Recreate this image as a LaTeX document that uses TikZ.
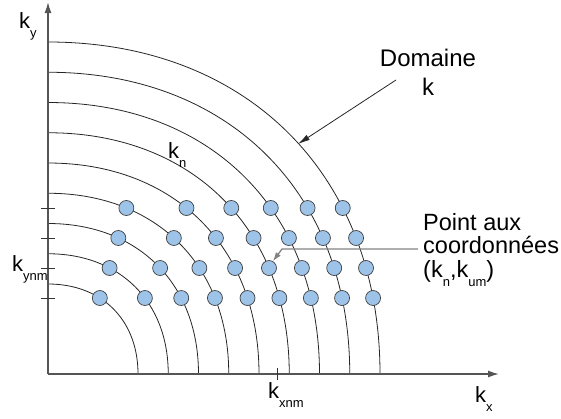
\documentclass[tikz,border=0pt]{standalone}
\usepackage{fontspec}
\setmainfont{Liberation Sans}
\usetikzlibrary{arrows.meta,intersections}
\definecolor{dotblue}{RGB}{157,195,232}
\definecolor{axisgray}{RGB}{85,85,85}
\definecolor{pointergray}{RGB}{130,130,130}
\newcommand{\kk}[1]{k\raisebox{-9pt}{\fontsize{13}{13}\selectfont #1}}
\begin{document}
\begin{tikzpicture}[x=1pt,y=-1pt,
  axis/.style={line width=1.4pt, draw=axisgray, -{Latex[length=11pt,width=7pt]}},
  arcline/.style={line width=0.8pt, draw=black!85},
  dot/.style={circle, minimum size=15pt, inner sep=0pt, fill=dotblue, draw=black!75, line width=0.7pt},
  tickmark/.style={line width=1pt, draw=black!80},
  lbl/.style={font=\fontsize{22}{26}\selectfont, inner sep=0pt, anchor=base west},
  big/.style={font=\fontsize{24}{29}\selectfont, inner sep=0pt, align=center},
  mid/.style={font=\fontsize{23.5}{23.5}\selectfont, inner sep=0pt, align=left},
  pointer/.style={line width=1.3pt, draw=pointergray, -{Latex[length=9pt,width=6pt]}},
  darrow/.style={line width=0.8pt, draw=black!85, -{Latex[length=12pt,width=6pt]}}
]
\useasboundingbox (0,0) rectangle (561,418);

% arcs
\foreach \i in {1,...,9} {
  \pgfmathsetmacro\R{90+30.25*(\i-1)}
  \draw[arcline, name path global=arc\i] (48,{374-\R}) .. controls ({48+0.6*\R},{374-\R}) and ({48+\R},{374-0.6*\R}) .. ({48+\R},374);
}

% axes
\coordinate (O) at (48,374);
\coordinate (ytop) at (48,2);
\coordinate (xend) at (499,374);
\draw[axis] (O) -- (ytop);
\draw[axis] (O) -- (xend);

% ticks
\foreach \y in {208,238,268,298} {
  \coordinate (tl\y) at (41,\y);
  \coordinate (tr\y) at (55,\y);
  \draw[tickmark] (tl\y) -- (tr\y);
}
\coordinate (txa) at (277,368);
\coordinate (txb) at (277,380);
\draw[tickmark] (txa) -- (txb);

% dots
\foreach \y/\s in {208/4, 238/3, 268/2, 298/1} {
  \path[name path global=row\y] (30,\y) -- (540,\y);
  \foreach \i in {\s,...,9} {
    \path[name intersections={of={arc\i} and {row\y}, by=P}];
    \node[dot] (d\y-\i) at (P) {};
  }
}

% labels
\node[lbl] (ky) at (19,28) {\kk{y}};
\node[lbl] (kx) at (475,402) {\kk{x}};
\node[lbl] (kxnm) at (268,398) {\kk{xnm}};
\node[lbl] (kynm) at (12,271) {\kk{ynm}};
\node[lbl] (kn) at (168,158) {\kk{n}};

\node[big, anchor=north] (dom) at (428,48.5) {Domaine\\k};
\coordinate (dstart) at (396,80);
\coordinate (dtip) at (298,144);
\draw[darrow] (dstart) -- (dtip);

\node[mid, anchor=north west] (pt) at (423,213) {Point aux\\coordonnées\\(\kk{n},\kk{um})};
\coordinate (pin) at (418,249);
\coordinate (pbend) at (282,249);
\draw[pointer] (pin) -- (pbend) -- (d268-6.60);
\end{tikzpicture}
\end{document}
